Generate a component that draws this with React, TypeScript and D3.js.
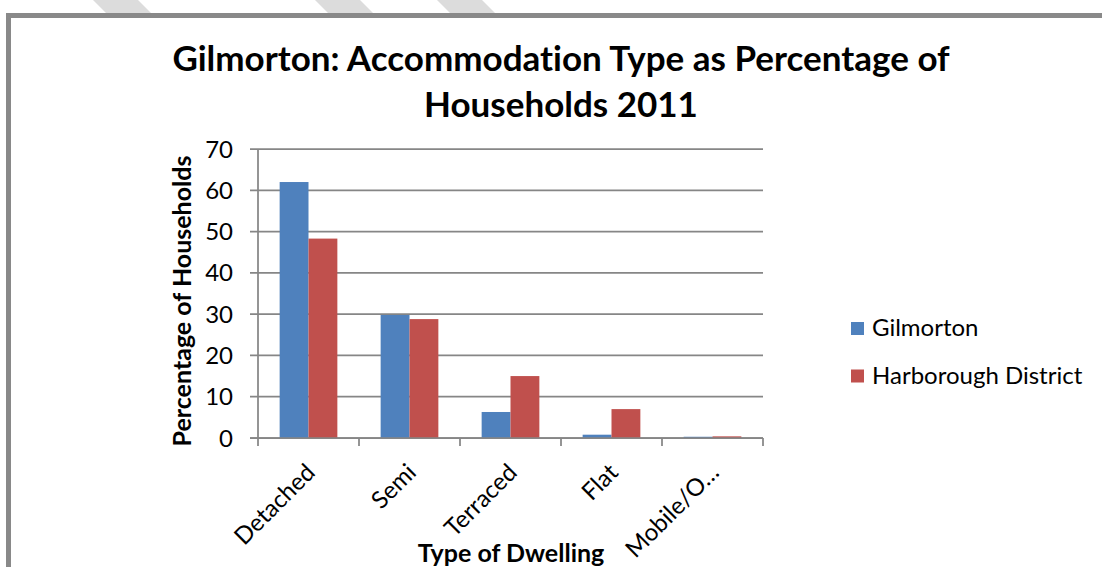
import React from "react";
import * as d3 from "d3";

const categories = ["Detached", "Semi", "Terraced", "Flat", "Mobile/O…"];
const seriesNames = ["Gilmorton", "Harborough District"];
const gilmorton = [62.0, 29.8, 6.3, 0.8, 0.3];
const harborough = [48.3, 28.8, 15.0, 7.0, 0.4];
const yTicks = [0, 10, 20, 30, 40, 50, 60, 70];
const colors = ["#4f81bd", "#c0504d"];
const titleLines = ["Gilmorton: Accommodation Type as Percentage of", "Households 2011"];
const yTitle = "Percentage of Households";
const xTitle = "Type of Dwelling";
const stripeStarts = [93, 315, 437];

const W = 1102;
const H = 567;
const plot = { left: 258, right: 763, top: 149, bottom: 438 };
const FONT = "Lato, 'Open Sans', sans-serif";
const AXIS = "#868686";

export default function App() {
  const x = d3.scaleBand<string>().domain(categories).range([plot.left, plot.right]).padding(0);
  const inner = d3
    .scaleBand<string>()
    .domain(seriesNames)
    .range([0, x.bandwidth()])
    .paddingInner(0)
    .paddingOuter(0.75);
  const y = d3.scaleLinear().domain([0, 70]).range([plot.bottom, plot.top]);
  const values = [gilmorton, harborough];

  return (
    <svg
      width={W}
      height={H}
      style={{ position: "absolute", left: 0, top: 0, background: "#fff", fontVariantLigatures: "none" }}
      fontFamily={FONT}
    >
      <rect x={0} y={0} width={W} height={H} fill="#fff" />
      {stripeStarts.map((s, i) => (
        <polygon key={i} points={`${s},0 ${s + 45},0 ${s + 58},13 ${s + 13},13`} fill="#dcdcdc" />
      ))}
      <rect x={8.5} y={15.5} width={W + 20} height={H + 20} fill="#fff" stroke="#898989" strokeWidth={5} />

      {titleLines.map((t, i) => (
        <text
          key={i}
          x={561}
          y={71 + i * 46}
          textAnchor="middle"
          fontWeight="bold"
          fontSize={35}
          fill="#000"
        >
          {t}
        </text>
      ))}

      {/* gridlines */}
      {yTicks.map((t) => (
        <line
          key={"g" + t}
          x1={plot.left - 8}
          x2={plot.right}
          y1={y(t)}
          y2={y(t)}
          stroke={AXIS}
          strokeWidth={1.75}
        />
      ))}
      {yTicks.map((t) => (
        <text key={"yl" + t} x={233} y={y(t)} dy="0.36em" textAnchor="end" fontSize={24} fill="#000">
          {t}
        </text>
      ))}
      <line x1={plot.left} x2={plot.left} y1={plot.top} y2={plot.bottom} stroke={AXIS} strokeWidth={1.75} />

      {/* bars */}
      {categories.map((c, ci) =>
        seriesNames.map((s, si) => {
          const v = values[si][ci];
          return (
            <rect
              key={c + s}
              x={(x(c) as number) + (inner(s) as number)}
              y={y(v)}
              width={inner.bandwidth()}
              height={y(0) - y(v)}
              fill={colors[si]}
            />
          );
        })
      )}
      <line x1={plot.left - 8} x2={plot.right} y1={plot.bottom} y2={plot.bottom} stroke={AXIS} strokeWidth={1.75} />
      {[...categories.map((c) => x(c) as number), plot.right].map((px, i) => (
        <line key={"xt" + i} x1={px} x2={px} y1={plot.bottom} y2={plot.bottom + 8} stroke={AXIS} strokeWidth={1.75} />
      ))}

      {/* category labels */}
      {categories.map((c) => {
        const cx = (x(c) as number) + x.bandwidth() / 2;
        const ax = cx + 8;
        const ay = 474;
        return (
          <text
            key={"cl" + c}
            x={ax}
            y={ay}
            textAnchor="end"
            fontSize={24}
            fill="#000"
            transform={`rotate(-45, ${ax}, ${ay})`}
          >
            {c}
          </text>
        );
      })}

      {/* axis titles */}
      <text
        x={0}
        y={0}
        transform={`translate(191, 301) rotate(-90)`}
        textAnchor="middle"
        fontWeight="bold"
        fontSize={25}
        fill="#000"
      >
        {yTitle}
      </text>
      <text x={511} y={562} textAnchor="middle" fontWeight="bold" fontSize={25} fill="#000">
        {xTitle}
      </text>

      {/* legend */}
      {seriesNames.map((s, i) => (
        <g key={"lg" + s}>
          <rect x={851} y={322 + i * 47.5} width={13} height={13} fill={colors[i]} />
          <text x={872} y={336 + i * 48} fontSize={24} fill="#000">
            {s}
          </text>
        </g>
      ))}
    </svg>
  );
}
